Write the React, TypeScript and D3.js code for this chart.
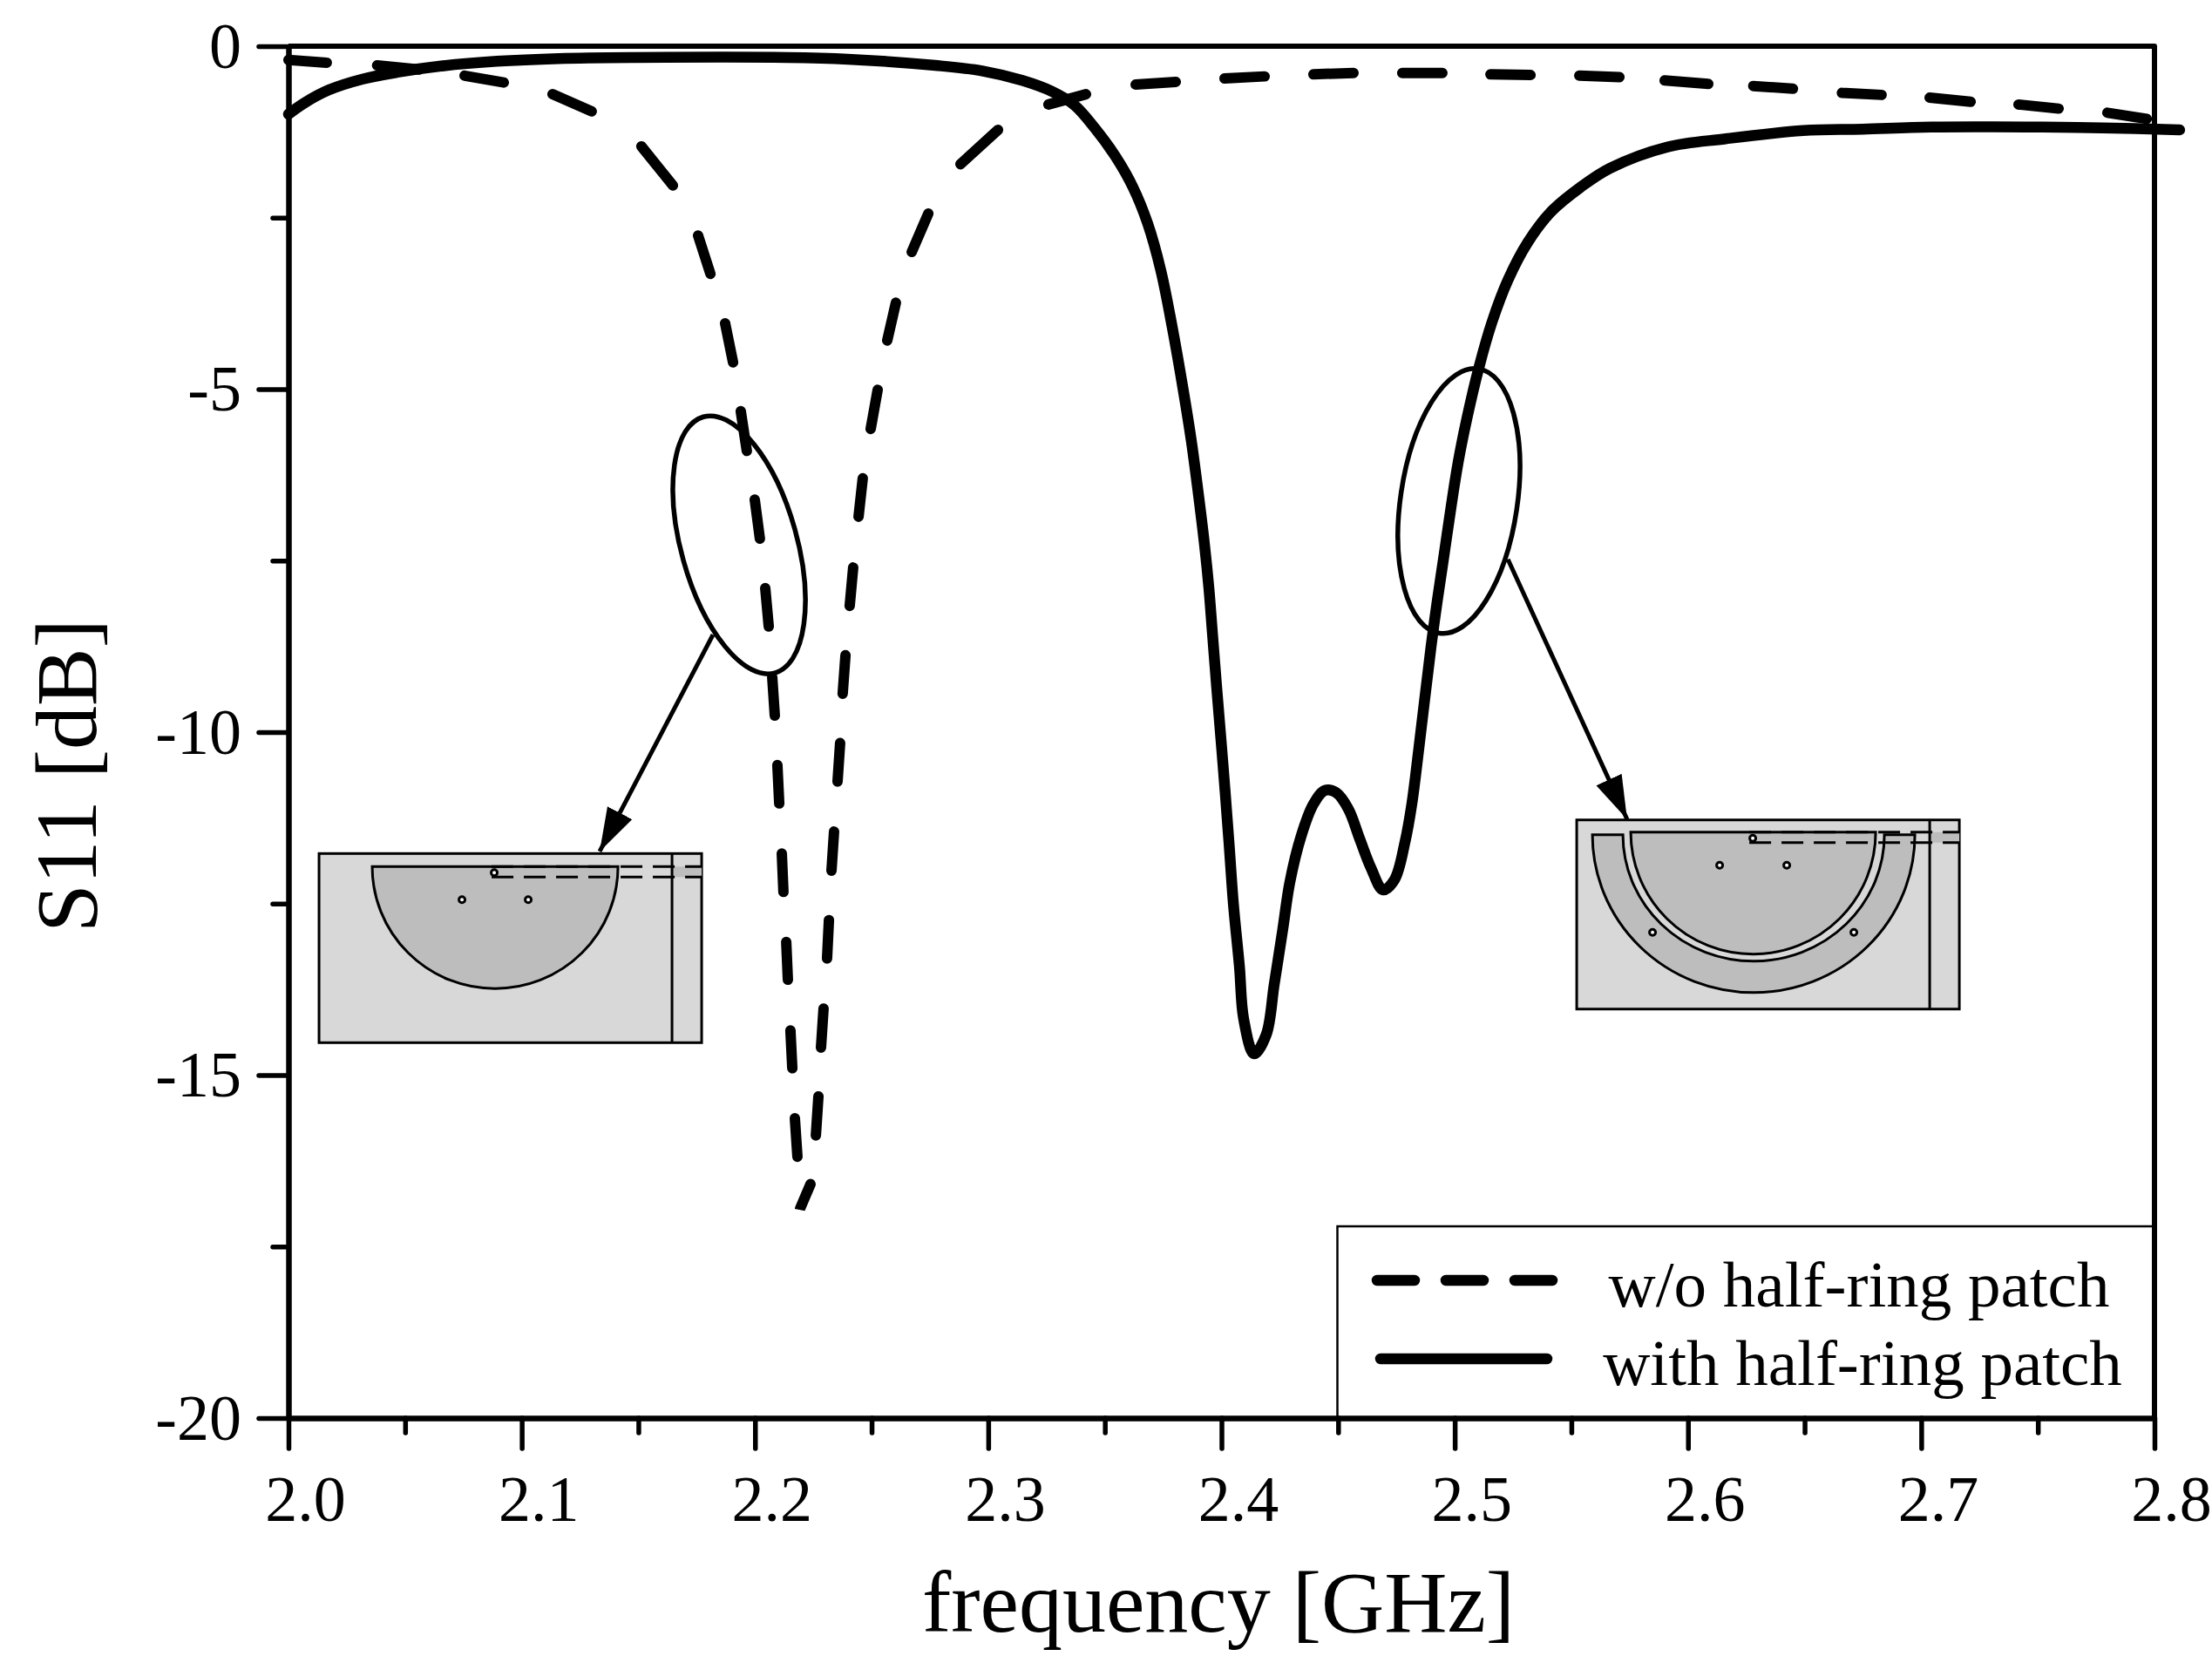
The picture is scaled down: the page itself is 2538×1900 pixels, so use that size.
import { useRef, useEffect } from 'react'
import * as d3 from 'd3'

const freqNoRing = [2.0, 2.0164, 2.038, 2.056, 2.0755, 2.0923, 2.1132, 2.13, 2.1513, 2.1648, 2.1756, 2.1809, 2.1872, 2.1906, 2.1939, 2.1965, 2.1999, 2.2021, 2.2044, 2.2059, 2.2074, 2.2085, 2.2096, 2.2104, 2.2115, 2.2122, 2.2134, 2.2141, 2.2152, 2.216, 2.2171, 2.2182, 2.2193, 2.2238, 2.2261, 2.2272, 2.2283, 2.2294, 2.2309, 2.2317, 2.2328, 2.2339, 2.2354, 2.2365, 2.2376, 2.2388, 2.2406, 2.2421, 2.2444, 2.2462, 2.2496, 2.2526, 2.2567, 2.2604, 2.2672, 2.2743, 2.2881, 2.3042, 2.3258, 2.3419, 2.3632, 2.3804, 2.4013, 2.4185, 2.4394, 2.4566, 2.4775, 2.4947, 2.5153, 2.5325, 2.5534, 2.5706, 2.59, 2.6087, 2.628, 2.645, 2.666, 2.683, 2.7036, 2.7212, 2.7417, 2.7589, 2.7798, 2.7967]
const s11NoRing = [-0.2, -0.24, -0.28, -0.34, -0.43, -0.53, -0.7, -0.95, -1.46, -2.03, -2.76, -3.32, -4.04, -4.61, -5.32, -5.9, -6.61, -7.18, -7.9, -8.46, -9.2, -9.76, -10.48, -11.04, -11.77, -12.33, -13.06, -13.61, -14.35, -14.9, -15.63, -16.19, -16.95, -16.59, -15.88, -15.31, -14.6, -14.03, -13.3, -12.74, -12.02, -11.45, -10.72, -10.16, -9.44, -8.88, -8.16, -7.6, -6.86, -6.3, -5.58, -5.01, -4.29, -3.74, -3.0, -2.44, -1.72, -1.22, -0.85, -0.7, -0.56, -0.52, -0.47, -0.44, -0.41, -0.39, -0.39, -0.39, -0.41, -0.42, -0.43, -0.45, -0.5, -0.55, -0.58, -0.62, -0.68, -0.71, -0.75, -0.81, -0.85, -0.91, -0.97, -1.06]

// with half-ring patch
const freqRing = [2.0, 2.0067, 2.0172, 2.0318, 2.0467, 2.0654, 2.0893, 2.1158, 2.148, 2.2137, 2.2399, 2.2773, 2.2974, 2.3146, 2.3273, 2.337, 2.3456, 2.3546, 2.3621, 2.3684, 2.374, 2.3789, 2.3834, 2.3871, 2.3901, 2.3927, 2.3946, 2.3961, 2.3979, 2.4006, 2.4032, 2.4051, 2.4077, 2.4095, 2.414, 2.4192, 2.4226, 2.4263, 2.4293, 2.4342, 2.4394, 2.4443, 2.4491, 2.4544, 2.4592, 2.4641, 2.4693, 2.4742, 2.4787, 2.4816, 2.4846, 2.4873, 2.4899, 2.4925, 2.4955, 2.4985, 2.5015, 2.5052, 2.5104, 2.516, 2.5228, 2.5313, 2.5414, 2.5538, 2.5665, 2.5911, 2.6162, 2.6494, 2.6748, 2.7043, 2.7518, 2.7776, 2.8108]
const s11Ring = [-0.99, -0.83, -0.64, -0.48, -0.38, -0.29, -0.22, -0.18, -0.165, -0.165, -0.19, -0.28, -0.36, -0.5, -0.66, -0.86, -1.19, -1.61, -2.06, -2.59, -3.27, -4.1, -4.97, -5.76, -6.53, -7.26, -7.9, -8.55, -9.33, -10.45, -11.6, -12.5, -13.42, -14.18, -14.69, -14.41, -13.68, -12.87, -12.19, -11.51, -11.05, -10.85, -10.88, -11.12, -11.55, -11.98, -12.3, -12.15, -11.6, -11.05, -10.24, -9.47, -8.74, -8.09, -7.4, -6.7, -6.06, -5.43, -4.68, -4.02, -3.41, -2.86, -2.41, -2.06, -1.78, -1.47, -1.35, -1.23, -1.21, -1.18, -1.18, -1.19, -1.22]

const xMajor = [2.0, 2.1, 2.2, 2.3, 2.4, 2.5, 2.6, 2.7, 2.8]
const xMinor = [2.05, 2.15, 2.25, 2.35, 2.45, 2.55, 2.65, 2.75]
const yMajor = [0, -5, -10, -15, -20]
const yMinor = [-2.5, -7.5, -12.5, -17.5]
const legendLabels = ['w/o half-ring patch', 'with half-ring patch']

const FONT = '"Liberation Serif", serif'
const LIGHT = '#d8d8d8'
const DARK = '#bdbdbd'

const halfEllipse = (l: number, r: number, top: number, ry: number) =>
  `M${l},${top}A${(r - l) / 2},${ry} 0 0 0 ${r},${top}Z`

export default function App() {
  const svgRef = useRef<SVGSVGElement>(null)

  useEffect(() => {
    const svg = d3.select(svgRef.current)
    svg.selectAll('*').remove()

    const x = d3.scaleLinear().domain([2.0, 2.8]).range([331, 2472])
    const y = d3.scaleLinear().domain([0, -20]).range([53, 1627])
    const left = x(2.0), right = x(2.8), top = y(0), bottom = y(-20)

    const defs = svg.append('defs')
    defs.append('marker').attr('id', 'arrowHead').attr('markerUnits', 'userSpaceOnUse')
      .attr('viewBox', '0 -17 50 34').attr('refX', 50).attr('refY', 0)
      .attr('markerWidth', 50).attr('markerHeight', 34).attr('orient', 'auto')
      .append('path').attr('d', 'M0,-16L50,0L0,16Z').attr('fill', 'black')

    // frame: top + right
    svg.append('path').attr('d', `M${left},${top}H${right}V${bottom}`)
      .attr('fill', 'none').attr('stroke', 'black').attr('stroke-width', 6).attr('stroke-linejoin', 'round')

    // minor ticks first so the major axis sits on top
    svg.append('g').attr('transform', `translate(0,${bottom})`)
      .call(d3.axisBottom(x).tickValues(xMinor).tickSize(17).tickFormat(() => ''))
      .call(g => g.select('.domain').remove())
    svg.append('g').attr('transform', `translate(${left},0)`)
      .call(d3.axisLeft(y).tickValues(yMinor).tickSize(18).tickFormat(() => ''))
      .call(g => g.select('.domain').remove())

    const gx = svg.append('g').attr('transform', `translate(0,${bottom})`)
      .call(d3.axisBottom(x).tickValues(xMajor).tickSize(35).tickSizeOuter(0).tickFormat(d3.format('.1f')))
    gx.selectAll('text').attr('x', 19).attr('y', 118).attr('dy', 0)

    const gy = svg.append('g').attr('transform', `translate(${left},0)`)
      .call(d3.axisLeft(y).tickValues(yMajor).tickSize(34).tickSizeOuter(0).tickFormat(d => String(d)))
    gy.selectAll('text').attr('x', -54).attr('y', 24).attr('dy', 0)

    svg.selectAll('.domain').attr('stroke', 'black').attr('stroke-width', 6.5)
    svg.selectAll('.tick line').attr('stroke', 'black').attr('stroke-width', 5.5).attr('stroke-linecap', 'round')
    svg.selectAll('.tick text').attr('font-family', FONT).attr('font-size', 74).attr('fill', 'black')

    // titles
    svg.append('text').attr('x', 1398).attr('y', 1872).attr('text-anchor', 'middle')
      .attr('font-family', FONT).attr('font-size', 100).text('frequency [GHz]')
    svg.append('text').attr('transform', 'translate(110,890) rotate(-90)').attr('text-anchor', 'middle')
      .attr('font-family', FONT).attr('font-size', 100).text('S11 [dB]')

    // curves
    const dashedLine = d3.line<number>().x(d => x(d)).y((_, i) => y(s11NoRing[i]))
    const solidLine = d3.line<number>().x(d => x(d)).y((_, i) => y(s11Ring[i]))
      .curve(d3.curveCatmullRom.alpha(0.5))

    // dash lengths come from the read dash ends, the plot's dashes don't repeat evenly
    const dashLengths = freqNoRing.slice(1).map((f, i) =>
      Math.hypot(x(f) - x(freqNoRing[i]), y(s11NoRing[i + 1]) - y(s11NoRing[i])))

    svg.append('path').attr('d', dashedLine(freqNoRing))
      .attr('fill', 'none').attr('stroke', 'black').attr('stroke-width', 12)
      .attr('stroke-linecap', 'round').attr('stroke-dasharray', dashLengths.join(' '))
    svg.append('path').attr('d', solidLine(freqRing))
      .attr('fill', 'none').attr('stroke', 'black').attr('stroke-width', 12.5)
      .attr('stroke-linecap', 'round').attr('stroke-linejoin', 'round')

    // legend
    const legend = svg.append('g')
    legend.append('path').attr('d', `M1534.5,${bottom}V1407H${right}`)
      .attr('fill', 'none').attr('stroke', 'black').attr('stroke-width', 2.5)
    legend.append('line').attr('x1', 1580).attr('x2', 1784).attr('y1', 1469).attr('y2', 1469)
      .attr('stroke', 'black').attr('stroke-width', 12.5).attr('stroke-linecap', 'round').attr('stroke-dasharray', '43 36')
    legend.append('line').attr('x1', 1584).attr('x2', 1775).attr('y1', 1559).attr('y2', 1559)
      .attr('stroke', 'black').attr('stroke-width', 12.5).attr('stroke-linecap', 'round')
    legend.selectAll('text').data(legendLabels).join('text')
      .attr('x', (_, i) => (i === 0 ? 2133 : 2137)).attr('y', (_, i) => (i === 0 ? 1499 : 1589))
      .attr('text-anchor', 'middle').attr('font-family', FONT).attr('font-size', 75)
      .text(d => d)

    // insets
    const drawInset = (f: number, s: number, ring: boolean) => {
      const g = svg.append('g').attr('transform', `translate(${x(f)},${y(s)})`)
        .attr('stroke', 'black').attr('stroke-width', 3)
      g.append('rect').attr('width', 439).attr('height', 217).attr('fill', LIGHT)
      g.append('rect').attr('x', 405).attr('y', ring ? 14 : 15).attr('width', 34).attr('height', 12)
        .attr('fill', DARK).attr('stroke', 'none')
      g.append('line').attr('x1', 405).attr('x2', 405).attr('y1', 0).attr('y2', 217)
      if (ring) {
        g.append('path').attr('fill', DARK)
          .attr('d', 'M18,17A185,181 0 0 0 388,17H353A150,145 0 0 1 53,17Z')
      }
      g.append('path').attr('fill', DARK).attr('d', halfEllipse(ring ? 62 : 61, 343, ring ? 14 : 15, 140))
      const yA = ring ? 14 : 15, yB = ring ? 26 : 27
      g.append('line').attr('x1', 198).attr('x2', 439).attr('y1', yA).attr('y2', yA)
        .attr('stroke-dasharray', '25 12')
      g.append('line').attr('x1', 198).attr('x2', 439).attr('y1', yB).attr('y2', yB)
        .attr('stroke-dasharray', '25 12')
      const holes = ring
        ? [[202, 21], [164, 52], [241, 52], [87, 129], [318, 129]]
        : [[201, 22], [164, 53], [240, 53]]
      g.selectAll('circle').data(holes).join('circle')
        .attr('cx', d => d[0]).attr('cy', d => d[1]).attr('r', 3.5).attr('fill', 'white')
    }
    drawInset(2.0131, -11.77, false)
    drawInset(2.5523, -11.28, true)

    // callout ellipses and arrows
    const callout = (f: number, s: number, a: number, b: number, deg: number, from: number[], to: number[]) => {
      svg.append('ellipse').attr('rx', b).attr('ry', a)
        .attr('transform', `translate(${x(f)},${y(s)}) rotate(${deg})`)
        .attr('fill', 'none').attr('stroke', 'black').attr('stroke-width', 5.5)
      svg.append('line')
        .attr('x1', x(from[0])).attr('y1', y(from[1])).attr('x2', x(to[0])).attr('y2', y(to[1]))
        .attr('stroke', 'black').attr('stroke-width', 5).attr('marker-end', 'url(#arrowHead)')
    }
    callout(2.1932, -7.27, 152.5, 66.4, -15.6, [2.182, -8.58], [2.1334, -11.74])
    callout(2.5018, -6.63, 153.3, 67, 8.4, [2.5228, -7.48], [2.5739, -11.27])
  }, [])

  return (
    <svg
      ref={svgRef}
      width={2538}
      height={1900}
      style={{ position: 'absolute', left: 0, top: 0, background: 'white' }}
    />
  )
}
